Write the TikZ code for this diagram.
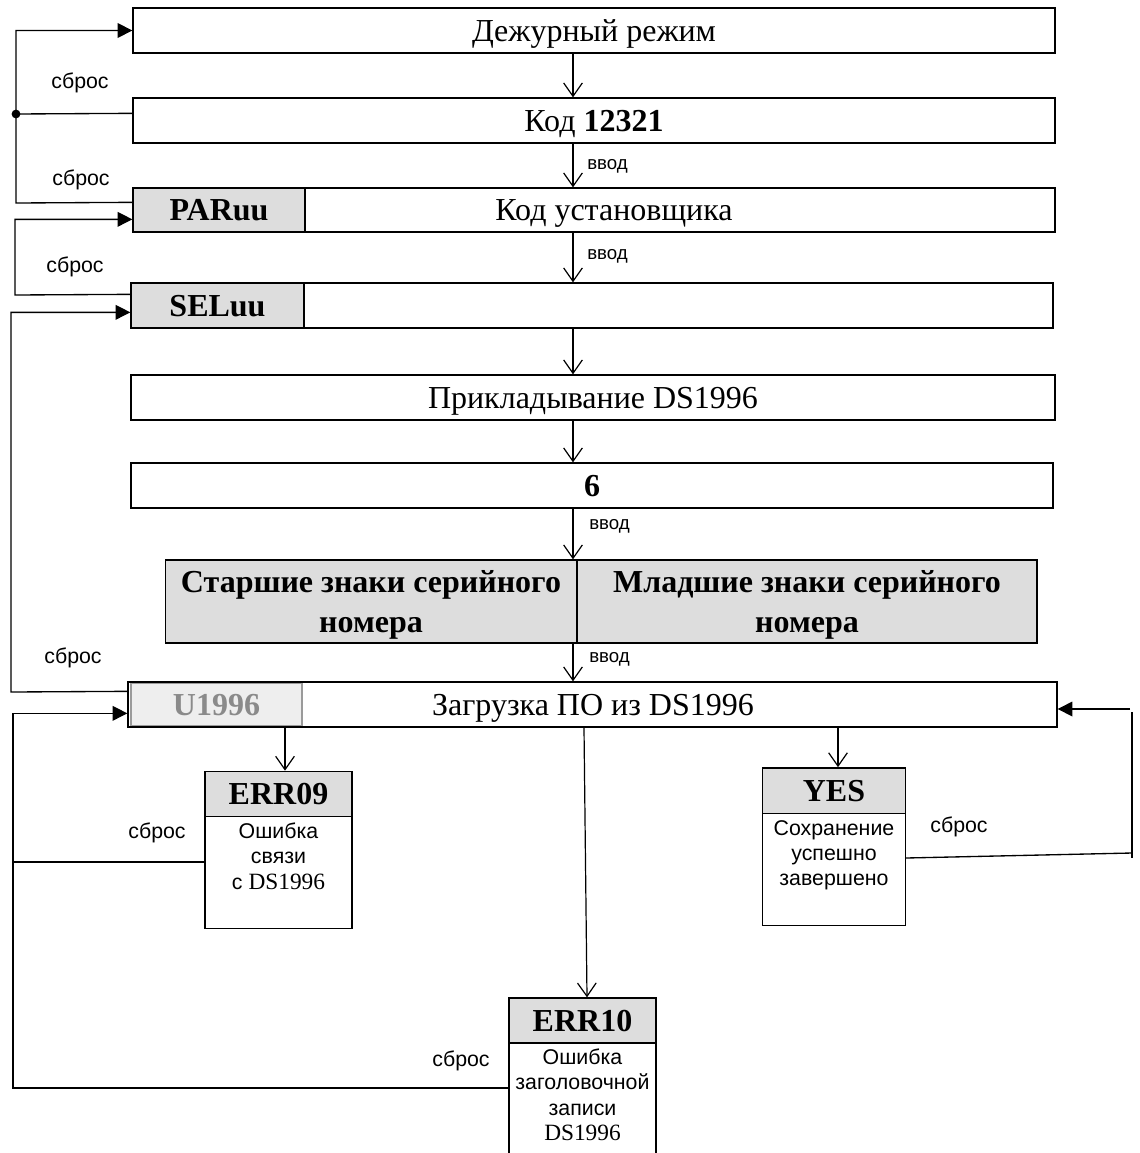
\documentclass[tikz,border=0pt]{standalone}
\usepackage{fontspec}
\setmainfont{Liberation Serif}
\newfontfamily\arial{Liberation Sans}
\usetikzlibrary{arrows.meta,calc}
\definecolor{gfill}{HTML}{DDDDDD}
\definecolor{lfill}{HTML}{EEEEEE}
\definecolor{gtext}{HTML}{8A8A8A}
\definecolor{gline}{HTML}{9A9A9A}
\begin{document}
\begin{tikzpicture}[x=0.75pt,y=-0.75pt,
  box/.style={draw, line width=1pt, fill=white, inner sep=0pt, text height=15.9pt, text depth=0pt, font=\fontsize{24}{28}\selectfont},
  graybox/.style={box, fill=gfill, font=\bfseries\fontsize{24}{28}\selectfont},
  serbox/.style={draw, line width=1pt, fill=gfill, inner sep=0pt},
  sertxt/.style={inner sep=0pt, align=center, font=\bfseries\fontsize{24}{29.5}\selectfont},
  lightbox/.style={draw=gline, line width=1pt, fill=lfill, inner sep=0pt, text height=15.9pt, text depth=0pt, text=gtext, font=\bfseries\fontsize{24}{28}\selectfont},
  txt/.style={inner sep=0pt, text height=15.9pt, text depth=0pt, font=\fontsize{24}{28}\selectfont},
  lbl/.style={inner sep=0pt, font=\arial\fontsize{16}{18}\selectfont},
  vlbl/.style={inner sep=0pt, anchor=west, font=\arial\fontsize{14}{16}\selectfont},
  body/.style={inner sep=0pt, anchor=north, align=center, font=\arial\fontsize{16}{18.8}\selectfont},
  line/.style={line width=1pt},
  varr/.style={line width=0.9pt, -{Straight Barb[length=10pt,width=14pt,line width=0.9pt]}},
  farr/.style={line width=1pt, -{Triangle[length=11pt,width=11pt]}}]
\useasboundingbox (0,0) rectangle (1139,1153);
\clip (0,0) rectangle (1139,1153);
\fill[white] (0,0) rectangle (1139,1153);

% main column
\node[box, minimum width=691.5pt, minimum height=33.75pt] (b1) at (594,30.5) {Дежурный режим};
\node[box, minimum width=691.5pt, minimum height=33.75pt] (b2) at (594,120.5) {Код \textbf{12321}};
\node[box, minimum width=691.5pt, minimum height=33pt] (b3) at (594,210) {};
\node[graybox, minimum width=129pt, minimum height=33pt] (par) at (219,210) {PARuu};
\node[txt] (t3) at (614,210) {Код установщика};
\node[box, minimum width=691.5pt, minimum height=33.75pt] (b4) at (592,305.5) {};
\node[graybox, minimum width=129.75pt, minimum height=33.75pt] (sel) at (217.5,305.5) {SELuu};
\node[box, minimum width=693pt, minimum height=33.75pt] (b5) at (593,397.5) {Прикладывание DS1996};
\node[box, minimum width=691.5pt, minimum height=33.75pt] (b6) at (592,485.5) {\textbf{6}};
\node[serbox, minimum width=308.25pt, minimum height=62.25pt] (sa) at (371,601.5) {};
\node[sertxt] (sat) at (371,605) {Старшие знаки серийного\\номера};
\node[serbox, minimum width=345pt, minimum height=62.25pt] (sb) at (807,601.5) {};
\node[sertxt] (sbt) at (807,605) {Младшие знаки серийного\\номера};
\node[box, minimum width=696.75pt, minimum height=33.75pt] (b8) at (592.5,704.5) {};
\node[lightbox, minimum width=128.25pt, minimum height=31.5pt] (u) at (216.5,704.5) {U1996};
\node[txt] (t8) at (593,704.5) {Загрузка ПО из DS1996};

% result boxes
\node[graybox, minimum width=110.25pt, minimum height=34pt] (e9h) at (278.5,794) {ERR09};
\node[box, minimum width=110.25pt, minimum height=84pt] (e9b) at (278.5,872.5) {};
\node[body] (e9t) at (278.5,823) {Ошибка\\связи\\с {\rmfamily\fontsize{17.5}{18.8}\selectfont DS1996}};

\node[graybox, minimum width=107.25pt, minimum height=34pt] (yh) at (834,790.5) {YES};
\node[box, minimum width=107.25pt, minimum height=84pt] (yb) at (834,869.5) {};
\node[body] (yt) at (834,820) {Сохранение\\успешно\\завершено};

\node[graybox, minimum width=110.25pt, minimum height=33.75pt] (e10h) at (582.5,1020.5) {ERR10};
\node[box, minimum width=110.25pt, minimum height=92pt] (e10b) at (582.5,1104.3) {};
\node[body] (e10t) at (582.5,1049) {Ошибка\\заголовочной\\записи\\{\rmfamily\fontsize{17.5}{18.8}\selectfont DS1996}};

% vertical arrows in the main column
\coordinate (ax) at (573,0);
\draw[varr] (ax |- b1.south) -- (ax |- b2.north);
\draw[varr] (ax |- b2.south) -- (ax |- b3.north);
\draw[varr] (ax |- b3.south) -- (ax |- b4.north);
\draw[varr] (ax |- b4.south) -- (ax |- b5.north);
\draw[varr] (ax |- b5.south) -- (ax |- b6.north);
\draw[varr] (ax |- b6.south) -- (ax |- sa.north);
\draw[varr] (ax |- sa.south) -- (ax |- b8.north);
\node[vlbl] (v1) at (587,166) {ввод};
\node[vlbl] (v2) at (587,256) {ввод};
\node[vlbl] (v3) at (589,526) {ввод};
\node[vlbl] (v4) at (589,659) {ввод};

% arrows from U1996 row
\coordinate (a9) at (285,0);
\coordinate (a10a) at (584,0);
\coordinate (a10b) at (587,0);
\coordinate (ay) at (838,0);
\draw[varr] (b8.south -| a9) -- (e9h.north -| a9);
\draw[varr] (b8.south -| a10a) -- (e10h.north -| a10b);
\draw[varr] (b8.south -| ay) -- (yh.north -| ay);

% left reset loops
\draw[farr] ($(b3.north west)+(0,15)$) -- (16,203) |- (b1.west);
\draw[line] ($(b2.north west)+(0,16)$) -- (16,114);
\fill (16,114) circle (3.3pt);
\draw[farr] ($(b4.north west)+(0,12)$) -- (15,295) |- ($(b3.north west)+(0,32)$);
\draw[farr] ($(b8.north west)+(0,10)$) -- (11,692) |- ($(b4.north west)+(0,30)$);
\draw[line] (e9b.west |- 0,862) -- (13,862);
\draw[farr] (e10b.west |- 0,1088) -- (13,1088) |- ($(b8.north west)+(0,32)$);

% right reset loop
\draw[line] (yb.east |- 0,858) -- (1132,853);
\draw[line] (1132,712) -- (1132,858);
\draw[farr] (1130,709) -- (b8.east |- 0,709);

% labels
\node[lbl] (s1) at (80,83) {сброс};
\node[lbl] (s2) at (81,180) {сброс};
\node[lbl] (s3) at (75,267) {сброс};
\node[lbl] (s4) at (73,658) {сброс};
\node[lbl] (s5) at (157,833) {сброс};
\node[lbl] (s6) at (461,1061) {сброс};
\node[lbl] (s7) at (959,827) {сброс};
\end{tikzpicture}
\end{document}
